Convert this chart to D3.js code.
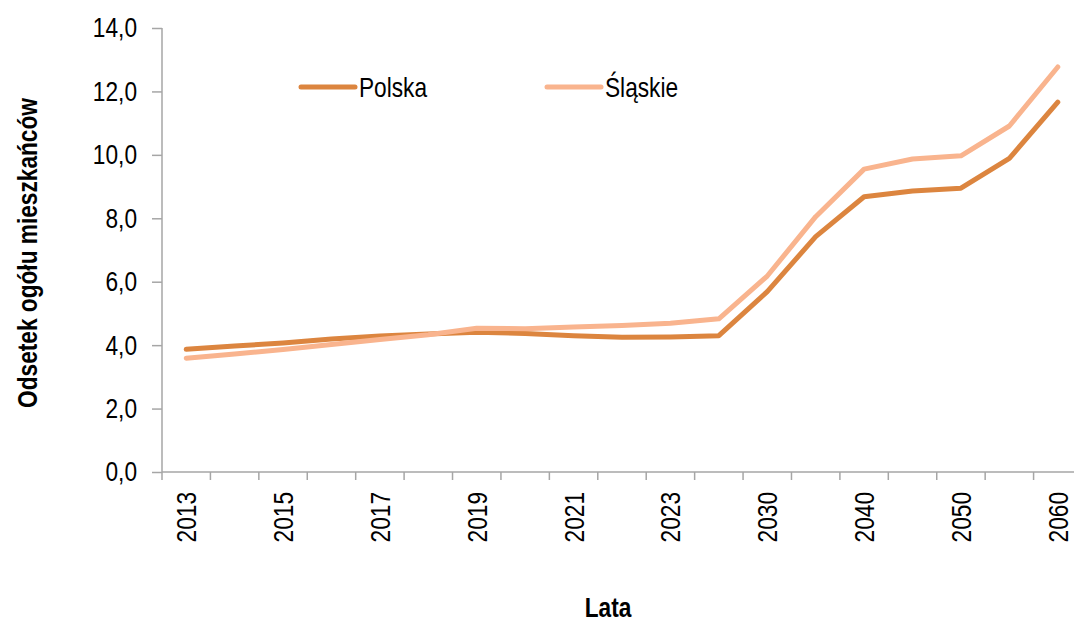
<!DOCTYPE html>
<html>
<head>
<meta charset="utf-8">
<script src="https://d3js.org/d3.v7.min.js"></script>
<style>
  body{margin:0;background:#fff;}
  text{font-family:"Liberation Sans Narrow","Arial Narrow","Liberation Sans",sans-serif;fill:#000;}
  .axis path,.axis line{stroke:#a6a6a6;stroke-width:1.5;}
  .axis text{font-size:28px;}
  .atitle{font-size:28px;font-weight:bold;}
  .leg{font-size:28px;}
</style>
</head>
<body>
<script>
// data
const years = ["2013","2014","2015","2016","2017","2018","2019","2020","2021","2022","2023","2025",
               "2030","2035","2040","2045","2050","2055","2060"];
const polska = [3.87,3.97,4.07,4.19,4.29,4.35,4.41,4.37,4.30,4.25,4.26,4.30,
                5.69,7.42,8.68,8.86,8.95,9.89,11.66];
const slaskie = [3.59,3.72,3.86,4.02,4.18,4.33,4.53,4.52,4.57,4.62,4.69,4.83,
                 6.18,8.05,9.55,9.87,9.97,10.91,12.77];
const yTicks = [0,2,4,6,8,10,12,14];
const shownYears = ["2013","2015","2017","2019","2021","2023","2030","2040","2050","2060"];

const w = 1074, h = 623;
const plot = {left:162, right:1082, top:28, bottom:472};
//no narrow font installed, so squeeze the regular one
const narrow = "scale(0.81,1)";

const svg = d3.select("body").append("svg")
  .attr("width", w).attr("height", h);

const x = d3.scaleBand().domain(years).range([plot.left, plot.right]);
const y = d3.scaleLinear().domain([0, 14]).range([plot.bottom, plot.top]);

//y axis
const yAxis = d3.axisLeft(y)
  .tickValues(yTicks)
  .tickSizeInner(10).tickSizeOuter(0)
  .tickFormat(d => d3.format(".1f")(d).replace(".", ","));
const gy = svg.append("g").attr("class","axis")
  .attr("transform","translate("+plot.left+",0)")
  .call(yAxis);
gy.select(".domain").remove();
gy.selectAll(".tick text")
  .attr("x",0)
  .attr("transform","translate(-25,0) "+narrow);
svg.append("line")
  .attr("x1",plot.left).attr("x2",plot.left).attr("y1",plot.top).attr("y2",plot.bottom+8)
  .attr("stroke","#a6a6a6").attr("stroke-width",1.5);

//x axis - ticks between categories like excel
svg.append("line")
  .attr("x1",plot.left).attr("x2",plot.right).attr("y1",plot.bottom).attr("y2",plot.bottom)
  .attr("stroke","#a6a6a6").attr("stroke-width",1.5);
svg.append("g").selectAll("line")
  .data(years.slice(1))
  .join("line")
  .attr("x1",d => x(d)).attr("x2",d => x(d))
  .attr("y1",plot.bottom).attr("y2",plot.bottom+8)
  .attr("stroke","#a6a6a6").attr("stroke-width",1.5);
svg.append("g").attr("class","axis").selectAll("text")
  .data(shownYears)
  .join("text")
  .attr("transform",d => "translate("+(x(d)+x.bandwidth()/2+10)+","+(plot.bottom+20)+") rotate(-90) "+narrow)
  .attr("text-anchor","end")
  .text(d => d);

//lines
const line = d3.line()
  .x((d,i) => x(years[i]) + x.bandwidth()/2)
  .y(d => y(d));

const series = [
  {name:"Polska", values:polska, color:"#dc853f"},
  {name:"Śląskie", values:slaskie, color:"#f9b48e"}
];

svg.append("g").selectAll("path")
  .data(series)
  .join("path")
  .attr("d", d => line(d.values))
  .attr("fill","none")
  .attr("stroke", d => d.color)
  .attr("stroke-width",5)
  .attr("stroke-linecap","round")
  .attr("stroke-linejoin","round");

//legend
const legX = [301, 547];
const leg = svg.append("g").selectAll("g")
  .data(series)
  .join("g")
  .attr("transform",(d,i) => "translate("+legX[i]+",87)");
leg.append("line")
  .attr("x1",0).attr("x2",54).attr("y1",0).attr("y2",0)
  .attr("stroke",d => d.color).attr("stroke-width",5)
  .attr("stroke-linecap","round");
leg.append("text")
  .attr("class","leg")
  .attr("transform","translate(58,10) "+narrow)
  .text(d => d.name);

//axis titles
svg.append("text")
  .attr("class","atitle")
  .attr("transform","translate(37,"+((plot.top+plot.bottom)/2+3)+") rotate(-90) "+narrow)
  .attr("text-anchor","middle")
  .text("Odsetek ogółu mieszkańców");
svg.append("text")
  .attr("class","atitle")
  .attr("transform","translate(608,617) "+narrow)
  .attr("text-anchor","middle")
  .text("Lata");
</script>
</body>
</html>
